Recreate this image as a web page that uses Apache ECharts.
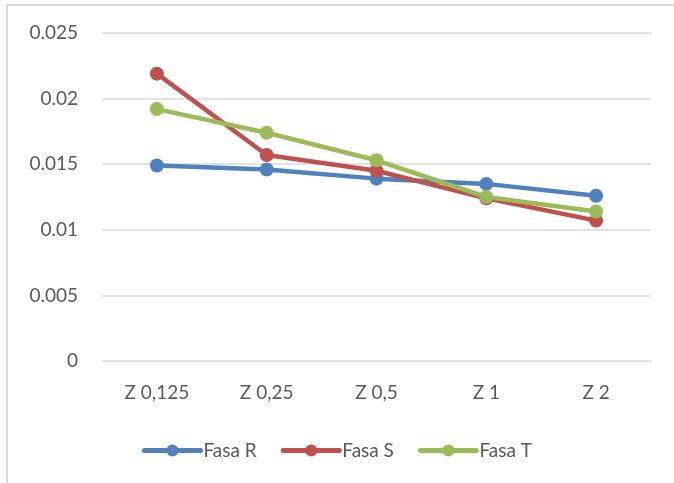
<!DOCTYPE html>
<html>
<head>
<meta charset="utf-8">
<script src="https://cdn.jsdelivr.net/npm/echarts@6/dist/echarts.min.js"></script>
<style>
html,body{margin:0;padding:0;background:#fff;}
#frame{position:absolute;left:6px;top:4px;width:700px;height:500px;border:2px solid #d9d9d9;box-sizing:border-box;}
#chart{position:absolute;left:0;top:0;width:674px;height:483px;}
</style>
</head>
<body>
<div id="frame"></div>
<div id="chart"></div>
<script>
const categories = ['Z 0,125', 'Z 0,25', 'Z 0,5', 'Z 1', 'Z 2'];
const fasaR = [0.0149, 0.0146, 0.0139, 0.0135, 0.0126];
const fasaS = [0.0219, 0.0157, 0.0145, 0.0124, 0.0107];
const fasaT = [0.0192, 0.0174, 0.0153, 0.0125, 0.0114];
const seriesNames = ['Fasa R', 'Fasa S', 'Fasa T'];
const colors = ['#4F81BD', '#C0504D', '#9BBB59'];
const FONT = 'Lato';

const chart = echarts.init(document.getElementById('chart'), null, {renderer: 'canvas'});
function mk(name, data, color) {
  return {
    name, type: 'line', data,
    symbol: 'circle', symbolSize: 14,
    lineStyle: {width: 4.5, color},
    itemStyle: {color},
    animation: false
  };
}
chart.setOption({
  backgroundColor: 'transparent',
  animation: false,
  grid: {left: 102, right: 23, top: 33, bottom: 122, containLabel: false},
  xAxis: {
    type: 'category', data: categories, boundaryGap: true,
    axisLine: {show: false}, axisTick: {show: false},
    axisLabel: {color: '#595959', fontFamily: FONT, fontSize: 19, margin: 22}
  },
  yAxis: {
    type: 'value', min: 0, max: 0.025, interval: 0.005,
    axisLine: {show: false}, axisTick: {show: false},
    splitLine: {lineStyle: {color: '#d9d9d9', width: 1.5}},
    axisLabel: {color: '#595959', fontFamily: FONT, fontSize: 19, margin: 24,
      formatter: v => v === 0 ? '0' : String(+v.toFixed(3))}
  },
  legend: {
    top: 436, left: 'center', itemWidth: 56, itemHeight: 15, itemGap: 24,
    lineStyle: {width: 5, cap: 'round'},
    textStyle: {color: '#595959', fontFamily: FONT, fontSize: 19, lineHeight: 18, padding: [0,0,0,-2]},
    data: seriesNames
  },
  series: [mk(seriesNames[0], fasaR, colors[0]), mk(seriesNames[1], fasaS, colors[1]), mk(seriesNames[2], fasaT, colors[2])]
});
</script>
</body>
</html>
